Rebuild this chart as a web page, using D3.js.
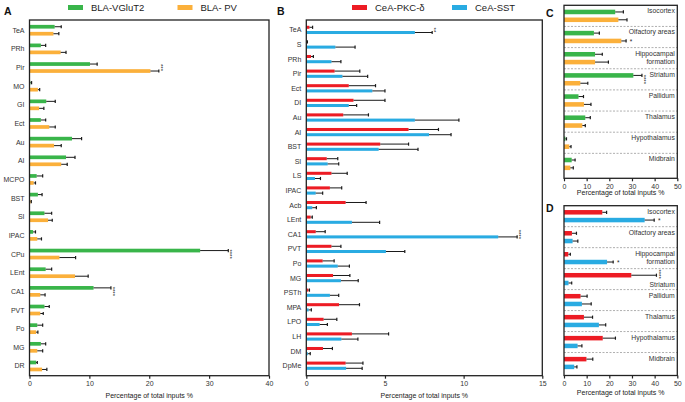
<!DOCTYPE html>
<html>
<head>
<meta charset="utf-8">
<script src="https://cdn.jsdelivr.net/npm/d3@7"></script>
<style>
html,body{margin:0;padding:0;background:#fff;}
svg{display:block;font-family:"Liberation Sans",Arial,sans-serif;}
</style>
</head>
<body>
<svg id="chart" width="685" height="402"></svg>
<script>
// ---------- Panel A ----------
const catsA = ["TeA","PRh","Pir","MO","GI","Ect","Au","AI","MCPO","BST","SI","IPAC","CPu","LEnt","CA1","PVT","Po","MG","DR"];
const vglutA = [4.2,1.9,10.1,0.15,2.8,1.9,7.1,6.1,1.2,1.4,2.5,0.6,28.5,2.7,10.7,2.5,1.3,1.9,1.1];
const vglutErrA = [1.1,0.8,1.2,0.2,1.5,0.8,1.6,1.5,1.0,0.7,1.2,0.4,4.7,1.0,2.9,0.8,0.9,0.8,0.2];
const pvA = [4.0,5.2,20.2,1.4,1.6,3.3,4.1,5.3,0.7,0.2,3.1,1.3,5.0,7.6,1.8,1.8,1.1,1.3,2.1];
const pvErrA = [0.9,0.9,1.4,0.3,0.8,1.0,1.2,1.0,0.3,0.1,0.7,0.7,2.7,2.2,0.8,0.5,0.3,0.9,0.8];
const ticksA = [0,10,20,30,40];
const starsA = [{cat:"Pir",text:"***"},{cat:"CPu",text:"****"},{cat:"CA1",text:"****"}];

// ---------- Panel B ----------
const catsB = ["TeA","S","PRh","Pir","Ect","DI","Au","AI","BST","SI","LS","IPAC","Acb","LEnt","CA1","PVT","Po","MG","PSTh","MPA","LPO","LH","DM","DpMe"];
const pkcB = [0.2,0.05,0.3,1.8,2.7,3.0,2.35,6.5,4.7,1.3,1.6,1.5,2.5,0.28,0.6,1.6,1.04,1.7,0.13,2.08,1.1,2.9,1.06,2.5];
const pkcErrB = [0.2,0.02,0.15,1.6,1.7,2.0,1.6,1.9,1.8,0.7,1.0,0.75,1.3,0.1,0.6,0.6,0.73,1.07,0.07,1.3,0.84,2.33,0.6,1.1];
const sstB = [6.9,1.85,1.6,2.3,4.2,2.7,6.9,7.8,4.6,1.36,0.55,0.6,0.38,2.9,12.2,5.06,2.0,2.2,1.5,0.15,0.85,2.23,0.1,2.53];
const sstErrB = [1.1,1.25,0.6,1.6,0.8,0.5,2.8,1.4,2.5,0.7,0.35,0.44,0.26,1.76,1.2,1.2,0.74,1.1,0.56,0.17,0.49,1.05,0.15,1.02];
const ticksB = [0,5,10,15];
const starsB = [{cat:"TeA",text:"**"},{cat:"CA1",text:"****"}];

// ---------- Panels C & D (brain regions) ----------
const regions = ["Isocortex","Olfactory areas","Hippocampal formation","Striatum","Pallidum","Thalamus","Hypothalamus","Midbrain"];
const vglutC = [22.6,13.2,13.7,30.6,6.4,9.4,0.6,3.4];
const vglutErrC = [3.6,2.4,3.2,3.8,2.2,2.2,0.5,1.5];
const pvC = [24.0,25.3,13.7,7.2,8.8,8.1,2.35,2.8];
const pvErrC = [3.8,2.1,5.9,3.3,3.1,1.3,0.75,1.3];
const pkcD = [16.9,3.5,1.9,29.7,7.3,8.8,17.1,9.9];
const pkcErrD = [1.9,2.0,0.9,11.1,2.9,3.8,5.6,2.8];
const sstD = [35.6,3.8,19.0,2.0,7.9,15.4,6.0,4.5];
const sstErrD = [4.2,2.3,2.7,1.4,4.1,3.0,1.9,1.2];
const ticksCD = [0,10,20,30,40,50];
const starsC = [{cat:"Olfactory areas",series:1,text:"*"},{cat:"Striatum",series:-1,text:"****"}];
const starsD = [{cat:"Isocortex",series:1,text:"*"},{cat:"Hippocampal formation",series:1,text:"*"},{cat:"Striatum",series:-1,text:"****"}];

const xTitle = "Percentage of total inputs %";
const GREEN="#39b54a", ORANGE="#fbb03b", RED="#ed1c24", BLUE="#29abe2";

const svg = d3.select("#chart");

function panel(o){
  const g = svg.append("g");
  const x = d3.scaleLinear().domain(o.xDomain).range([o.left,o.right]);
  const y = d3.scaleBand().domain(o.cats).range([o.bandTop,o.bandBottom]);
  const sub = d3.scaleBand().domain([0,1]).range([0,y.bandwidth()])
    .paddingInner(o.pi).paddingOuter(o.po);
  const rows = o.cats.map((c,i)=>({cat:c,i,vals:[
    {s:0,v:o.s0[i],e:o.e0[i],col:o.c0},{s:1,v:o.s1[i],e:o.e1[i],col:o.c1}]}));

  if(o.separators){
    g.selectAll("line.sep").data(o.cats.slice(1)).join("line")
      .attr("x1",o.left).attr("x2",o.right)
      .attr("y1",d=>y(d)).attr("y2",d=>y(d))
      .attr("stroke","#9a9a9a").attr("stroke-width",0.8).attr("stroke-dasharray","2,1.5");
  }

  const rg = g.selectAll("g.row").data(rows).join("g")
    .attr("transform",d=>`translate(0,${y(d.cat)})`);
  const bars = rg.selectAll("g.b").data(d=>d.vals).join("g");
  bars.append("rect")
    .attr("x",x(0)).attr("y",d=>sub(d.s))
    .attr("width",d=>Math.max(0,x(d.v)-x(0))).attr("height",sub.bandwidth())
    .attr("fill",d=>d.col);
  bars.append("line")
    .attr("x1",d=>x(d.v)).attr("x2",d=>x(d.v+d.e))
    .attr("y1",d=>sub(d.s)+sub.bandwidth()/2).attr("y2",d=>sub(d.s)+sub.bandwidth()/2)
    .attr("stroke","#1a1a1a").attr("stroke-width",1);
  bars.append("line")
    .attr("x1",d=>x(d.v+d.e)).attr("x2",d=>x(d.v+d.e))
    .attr("y1",d=>sub(d.s)+sub.bandwidth()/2-1.6).attr("y2",d=>sub(d.s)+sub.bandwidth()/2+1.6)
    .attr("stroke","#1a1a1a").attr("stroke-width",1.2);

  if(o.leftLabels){
    g.selectAll("text.cl").data(o.cats).join("text")
      .attr("x",o.left-5).attr("y",d=>y(d)+y.bandwidth()/2+2.5)
      .attr("text-anchor","end").attr("font-size",7).attr("fill","#333").text(d=>d);
  } else {
    o.cats.forEach(c=>{
      const lines = c==="Hippocampal formation" ? ["Hippocampal","formation"] : [c];
      const base = (o.bottomLabel && o.bottomLabel===c) ? 18.5 : 8;
      lines.forEach((t,k)=>{
        g.append("text").attr("x",o.right-2.5).attr("y",y(c)+base+k*8)
          .attr("text-anchor","end").attr("font-size",6.8).attr("fill","#333").text(t);
      });
    });
  }

  // significance stars: single char beside bar, or a vertical column (rotated text)
  o.stars.forEach(st=>{
    const i = o.cats.indexOf(st.cat);
    const r = rows[i];
    const ends = st.series>=0 ? [r.vals[st.series].v+r.vals[st.series].e]
                              : r.vals.map(d=>d.v+d.e);
    const n = st.text.length;
    const xe = x(d3.max(ends)) + (n===1 ? 5 : 3.5);
    const yc = y(st.cat) + (st.series>=0 ? sub(st.series)+sub.bandwidth()/2 : y.bandwidth()/2 - (o.starShift||0));
    if(n===1){
      g.append("text").attr("x",xe).attr("y",yc+3.4).attr("text-anchor","middle")
        .attr("font-size",6.5).attr("fill","#222").text("*");
    } else {
      g.append("text").attr("transform",`translate(${xe-3.4},${yc}) rotate(90)`)
        .attr("text-anchor","middle").attr("font-size",6).attr("fill","#222").text(st.text);
    }
  });

  g.append("rect").attr("x",o.left).attr("y",o.top).attr("width",o.right-o.left)
    .attr("height",o.bottom-o.top).attr("fill","none").attr("stroke","#222").attr("stroke-width",1.3);

  const ax = g.append("g").attr("transform",`translate(0,${o.bottom})`)
    .call(d3.axisBottom(x).tickValues(o.ticks).tickSize(3).tickPadding(2.5).tickFormat(d3.format("d")));
  ax.select(".domain").remove();
  ax.selectAll("line").attr("stroke","#222").attr("stroke-width",1.2);
  ax.selectAll("text").attr("font-size",7).attr("fill","#333").attr("font-family","Liberation Sans, Arial, sans-serif");
  g.append("text").attr("x",(o.left+o.right)/2).attr("y",o.titleY).attr("text-anchor","middle")
    .attr("font-size",7).attr("fill","#222").text(xTitle);

  g.append("text").attr("x",o.letterX).attr("y",o.letterY).attr("font-size",10.5)
    .attr("font-weight","bold").attr("fill","#111").text(o.letter);

  if(o.legend){
    o.legend.forEach(l=>{
      g.append("rect").attr("x",l.x).attr("y",5).attr("width",15).attr("height",5).attr("fill",l.col);
      g.append("text").attr("x",l.x+23).attr("y",11).attr("font-size",9.5).attr("fill","#222").text(l.name);
    });
  }
}

panel({letter:"A",letterX:4,letterY:15,cats:catsA,s0:vglutA,e0:vglutErrA,s1:pvA,e1:pvErrA,
  c0:GREEN,c1:ORANGE,xDomain:[0,40],ticks:ticksA,left:29.5,right:269,top:20,bottom:375.7,
  bandTop:20.9,bandBottom:375.3,pi:0.47,po:0.57,leftLabels:true,stars:starsA,titleY:398,
  legend:[{x:68,col:GREEN,name:"BLA-VGluT2"},{x:177.5,col:ORANGE,name:"BLA- PV"}]});

panel({letter:"B",letterX:277,letterY:15,cats:catsB,s0:pkcB,e0:pkcErrB,s1:sstB,e1:sstErrB,
  c0:RED,c1:BLUE,xDomain:[0,15],ticks:ticksB,left:306.3,right:542.3,top:20,bottom:375.7,
  bandTop:22.6,bandBottom:373,pi:0.42,po:0.61,leftLabels:true,stars:starsB,titleY:398,
  legend:[{x:352,col:RED,name:"CeA-PKC-δ"},{x:452,col:BLUE,name:"CeA-SST"}]});

panel({letter:"C",letterX:546,letterY:17,cats:regions,s0:vglutC,e0:vglutErrC,s1:pvC,e1:pvErrC,
  c0:GREEN,c1:ORANGE,xDomain:[0,50],ticks:ticksCD,left:564,right:677.3,top:5.3,bottom:178.3,
  bandTop:5.3,bandBottom:174.5,pi:0.42,po:0.56,leftLabels:false,separators:true,stars:starsC,
  titleY:195,starShift:0});

panel({letter:"D",letterX:546,letterY:212,cats:regions,s0:pkcD,e0:pkcErrD,s1:sstD,e1:sstErrD,
  c0:RED,c1:BLUE,xDomain:[0,50],ticks:ticksCD,left:564,right:677.3,top:205.7,bottom:375.5,
  bandTop:205.7,bandBottom:373.5,pi:0.42,po:0.56,leftLabels:false,separators:true,stars:starsD,
  bottomLabel:"Striatum",titleY:395,starShift:5});
</script>
</body>
</html>
